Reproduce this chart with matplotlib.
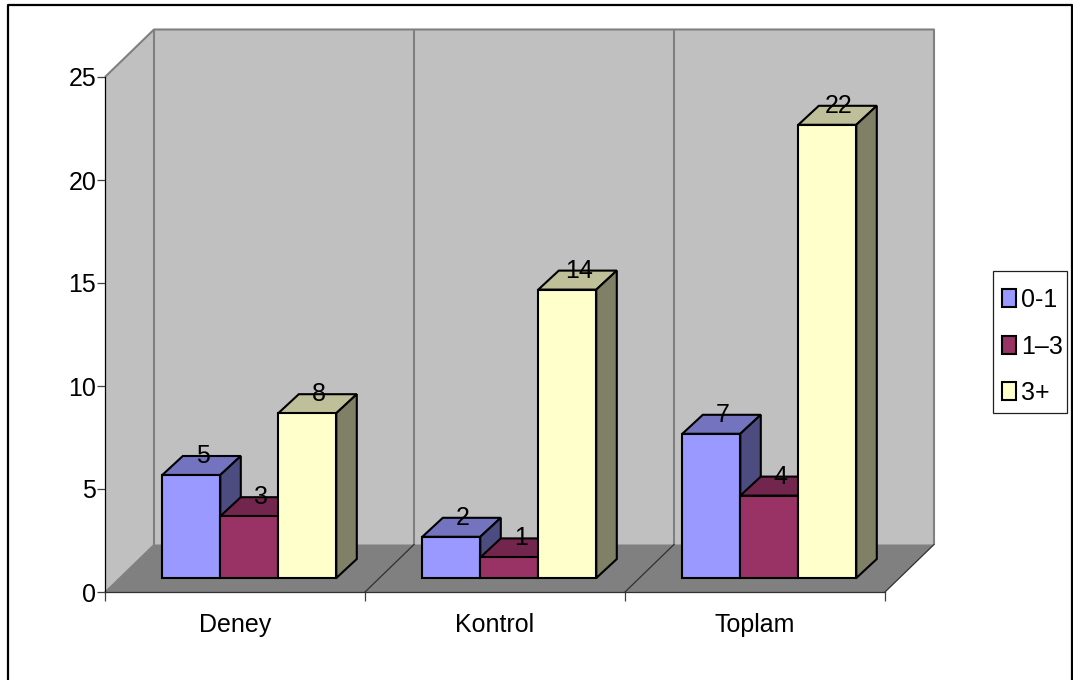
import matplotlib
matplotlib.use("Agg")
import matplotlib.pyplot as plt
from matplotlib.patches import Polygon, Rectangle, Patch
from matplotlib.lines import Line2D

# Chart values
categories = ["Deney", "Kontrol", "Toplam"]
series_names = ["0-1", "1–3", "3+"]
values_low = [5, 2, 7]
values_mid = [3, 1, 4]
values_high = [8, 14, 22]
value_ticks = [0, 5, 10, 15, 20, 25]

# Face colours of each series: front, top, side
front_colors = ["#9999FF", "#993366", "#FFFFCC"]
top_colors = ["#7373BF", "#73264D", "#BFBF99"]
side_colors = ["#4C4C80", "#4D1A33", "#808066"]

W, H = 1073, 680
plt.rcParams["font.family"] = ["Liberation Sans", "DejaVu Sans"]
FS = 18

fig = plt.figure(figsize=(W / 100, H / 100), dpi=100, facecolor="white")

# The axes rectangle is the front plane of the 3D box
LEFT, RIGHT, FLOOR, CEIL = 105, 885, 592, 77
ax = fig.add_axes([LEFT / W, 1 - FLOOR / H, (RIGHT - LEFT) / W, (FLOOR - CEIL) / H])
ax.set_xlim(0, 3)
ax.set_ylim(0, 25)
ax.patch.set_visible(False)

ux = (RIGHT - LEFT) / 3      # pixels per category
uy = (FLOOR - CEIL) / 25     # pixels per value unit
box_dx, box_dy = 49 / ux, 47.5 / uy
bar_dx, bar_dy = 20.5 / ux, 19 / uy
bar_w = 58 / ux
bar_x0 = 57.3 / ux
bar_base = 14 / uy


def poly(points, face, edge="none", lw=0.0, z=1):
    ax.add_patch(Polygon(points, closed=True, facecolor=face, edgecolor=edge,
                         linewidth=lw, clip_on=False, zorder=z, joinstyle="miter"))


# Walls and floor of the box
poly([(0, 0), (box_dx, box_dy), (box_dx, 25 + box_dy), (0, 25)], "#C0C0C0", z=1)
poly([(box_dx, box_dy), (box_dx, 25 + box_dy), (3 + box_dx, 25 + box_dy),
      (3 + box_dx, box_dy)], "#C0C0C0", z=1)
poly([(0, 0), (box_dx, box_dy), (3 + box_dx, box_dy), (3, 0)], "#808080", z=1)

wall_line = dict(color="#808080", lw=1.5, clip_on=False, zorder=2, solid_capstyle="butt")
ax.plot([0, box_dx, 3 + box_dx, 3 + box_dx], [25, 25 + box_dy, 25 + box_dy, box_dy], **wall_line)
for i in range(3):
    ax.plot([i + box_dx, i + box_dx], [box_dy, 25 + box_dy], **wall_line)
for i in range(4):
    ax.plot([i, i + box_dx], [0, box_dy], color="#303030" if i else "#808080", lw=0.9,
            clip_on=False, zorder=2)

# Bars, painted left to right so that nearer faces cover earlier ones
series = [values_low, values_mid, values_high]
BAR_EDGE = dict(edge="black", lw=1.5, z=3)
for c in range(len(categories)):
    for s, vals in enumerate(series):
        x0 = c + bar_x0 + s * bar_w
        x1 = x0 + bar_w
        y0 = bar_base
        y1 = bar_base + vals[c]
        poly([(x0, y1), (x0 + bar_dx, y1 + bar_dy), (x1 + bar_dx, y1 + bar_dy), (x1, y1)],
             top_colors[s], **BAR_EDGE)
        poly([(x1, y0), (x1 + bar_dx, y0 + bar_dy), (x1 + bar_dx, y1 + bar_dy), (x1, y1)],
             side_colors[s], **BAR_EDGE)
        poly([(x0, y0), (x1, y0), (x1, y1), (x0, y1)], front_colors[s], **BAR_EDGE)
        ax.text((x0 + x1) / 2 + bar_dx * 0.55, y1 + bar_dy, str(vals[c]), fontsize=FS,
                ha="center", va="center", color="black", zorder=5, clip_on=False)

# Axes, ticks and tick labels
for side in ("top", "right"):
    ax.spines[side].set_visible(False)
ax.spines["left"].set_color("black")
ax.spines["left"].set_linewidth(0.9)
ax.spines["bottom"].set_color("#303030")
ax.spines["bottom"].set_linewidth(0.9)
ax.spines["left"].set_zorder(2)
ax.spines["bottom"].set_zorder(2)

ax.set_yticks(value_ticks)
ax.set_yticklabels([str(v) for v in value_ticks], fontsize=FS)
ax.tick_params(axis="y", length=5.8, width=0.9, color="#404040", pad=0.5)
ax.set_xticks(range(4))
ax.set_xticklabels([""] * 4)
ax.tick_params(axis="x", which="major", length=6.5, width=0.9, color="#404040")
ax.set_xticks([i + 0.5 for i in range(3)], minor=True)
ax.set_xticklabels(categories, minor=True, fontsize=FS)
ax.tick_params(axis="x", which="minor", length=0, pad=15)

# Legend with a hand-placed frame
fig.add_artist(Rectangle((993 / W, 1 - 413 / H), 74 / W, 142 / H, transform=fig.transFigure,
                         facecolor="white", edgecolor="#202020", linewidth=0.9))
handles = [Patch(facecolor=f, edgecolor="black", linewidth=1.5, label=n)
           for f, n in zip(front_colors, series_names)]
fig.legend(handles=handles, loc="upper left", bbox_to_anchor=(1001.5 / W, 1 - 288 / H),
           frameon=False, fontsize=FS, borderpad=0, borderaxespad=0,
           handlelength=0.58, handleheight=0.72, handletextpad=0.2, labelspacing=0.9)

# Outer chart border, open along the bottom edge
border = dict(color="black", lw=1.6, transform=fig.transFigure)
fig.add_artist(Line2D([7.5 / W, 7.5 / W, 1072 / W, 1072 / W],
                      [0, 1 - 5 / H, 1 - 5 / H, 0], **border))

fig.savefig("out.png", dpi=100, facecolor="white")
